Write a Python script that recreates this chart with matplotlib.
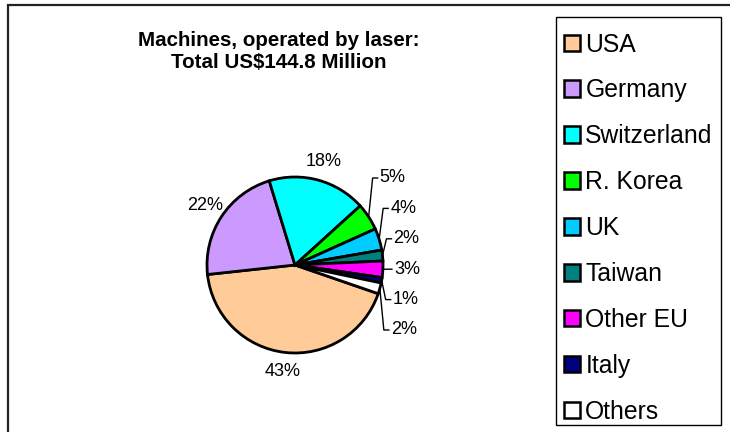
import numpy as np
import matplotlib
matplotlib.use("Agg")
import matplotlib.pyplot as plt
from matplotlib.patches import Rectangle

countries = ["USA", "Germany", "Switzerland", "R. Korea", "UK", "Taiwan", "Other EU", "Italy", "Others"]
shares = [43, 22, 18, 5, 4, 2, 3, 1, 2]
colors = ["#FFCC99", "#CC99FF", "#00FFFF", "#00FF00", "#00CCFF", "#008080", "#FF00FF", "#000080", "#FFFFFF"]
title = "Machines, operated by laser:\nTotal US$144.8 Million"

W, H = 730, 432
plt.rcParams['font.family'] = ['Liberation Sans', 'DejaVu Sans']
fig = plt.figure(figsize=(W / 100, H / 100), dpi=100)
ax = fig.add_axes([0, 0, 1, 1])

cx, cy, R = 295, H - 265, 88
wedges, _ = ax.pie(shares, colors=colors, startangle=-19, counterclock=False,
                   center=(cx, cy), radius=R,
                   wedgeprops=dict(edgecolor="black", linewidth=2.0))
ax.set_xlim(0, W)
ax.set_ylim(0, H)
ax.set_aspect('auto')
ax.axis('off')

# labels
small_y0, small_dy = 254, 30.4
k = 0
for w, v in zip(wedges, shares):
    mid = np.deg2rad((w.theta1 + w.theta2) / 2)
    txt = f"{v}%"
    if v >= 10:
        rr = R * 1.22
        ax.text(cx + rr * np.cos(mid), cy + rr * np.sin(mid), txt,
                ha='center', va='center', fontsize=13)
    else:
        x0, y0 = cx + R * np.cos(mid), cy + R * np.sin(mid)
        ly = small_y0 - k * small_dy
        x1 = x0 + 4
        x2 = x1 + 5
        ax.plot([x0, x1, x2], [y0, ly, ly], color='black', lw=1.0)
        ax.text(x2 + 2, ly, txt, ha='left', va='center', fontsize=13)
        k += 1

ax.text(279, H - 51, title, ha='center', va='center', fontsize=14.8,
        fontweight='bold', linespacing=1.2)

# outer frame
ax.plot([8, 8, W], [0, H - 5, H - 5], color='#222222', lw=1.6, solid_joinstyle='miter')

# legend frame
ax.add_patch(Rectangle((556, H - 425), 165, 408, facecolor='white',
                       edgecolor='black', lw=1.0, zorder=0.5))

leg = ax.legend(wedges, countries, loc='upper left', bbox_to_anchor=(545, H - 14),
                bbox_transform=ax.transData, borderaxespad=0, fontsize=17.8,
                handlelength=0.66, handleheight=0.66, handletextpad=0.22,
                borderpad=0.75, labelspacing=0.885, frameon=False)
for h in leg.legend_handles:
    h.set_linewidth(1.8)

fig.savefig("out.png", dpi=100)
